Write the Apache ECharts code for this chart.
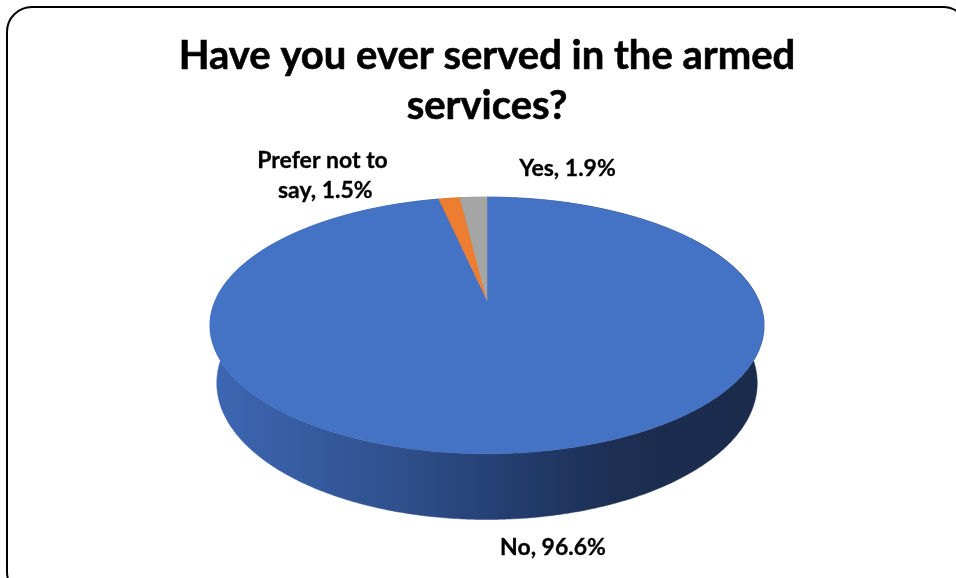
<!DOCTYPE html>
<html>
<head>
<meta charset="utf-8">
<script src="https://cdn.jsdelivr.net/npm/echarts@6/dist/echarts.min.js"></script>
<style>
  html, body { margin: 0; padding: 0; background: #ffffff; }
  #chart { width: 956px; height: 578px; }
</style>
</head>
<body>
<div id="chart"></div>
<script>
// Survey answers, in slice order (clockwise from 12 o'clock)
const categories = ['No', 'Prefer not to say', 'Yes'];
const shares = [96.6, 1.5, 1.9];

const titleText = 'Have you ever served in the armed\nservices?';

// Face colours per slice
const topColors = ['#4472C4', '#ED7D31', '#A5A5A5'];
const wallColors = ['#2F528F', '#AE5A21', '#7B7B7B'];

// Perspective camera for the tilted cylinder
const view = {
  cx: 487, cy: 300,      // screen position of the pie centre
  focal: 1222,           // focal length in px
  dist: 4.5,             // camera distance (in pie radii)
  tilt: 27 * Math.PI / 180,
  depth: 0.24            // cylinder height (in pie radii)
};

// Data label nudges relative to the rim anchor of each slice
const labelNudge = [[31, 29], [-124, -23], [94, -29]];
const labelFont = 'bold 23px Lato';

function project(x, y, z) {
  const s = Math.sin(view.tilt), c = Math.cos(view.tilt);
  const d = view.dist - (y * s + z * c);
  const v = y * c - z * s;
  return [view.cx + view.focal * x / d, view.cy - view.focal * v / d];
}
// alpha: clockwise angle from the far point (12 o'clock)
function rim(alpha, y) {
  return project(Math.sin(alpha), y, -Math.cos(alpha));
}

const total = shares.reduce((a, b) => a + b, 0);
function sliceAngles(i) {
  let before = 0;
  for (let k = 0; k < i; k++) before += shares[k];
  const a0 = before / total * Math.PI * 2;
  const a1 = (before + shares[i]) / total * Math.PI * 2;
  return [a0, a1];
}
function arcPoints(a0, a1, y) {
  const n = Math.max(2, Math.ceil((a1 - a0) / (Math.PI / 360)));
  const pts = [];
  for (let j = 0; j <= n; j++) pts.push(rim(a0 + (a1 - a0) * j / n, y));
  return pts;
}

// Horizontal shading of the outer wall, spanning the pie width
const left = rim(-Math.PI / 2, 0)[0] - 6;
const right = rim(Math.PI / 2, 0)[0] + 6;
function wallFill(i) {
  if (i !== 0) return wallColors[i];
  return {
    type: 'linear', global: true,
    x: left, y: 0, x2: right, y2: 0,
    colorStops: [
      { offset: 0, color: '#3D67B4' },
      { offset: 0.34, color: '#2F508C' },
      { offset: 0.58, color: '#223A6A' },
      { offset: 0.74, color: '#1C2E51' },
      { offset: 1, color: '#1A2B4C' }
    ]
  };
}

const seriesData = categories.map((name, i) => ({ name, value: shares[i] }));

const chart = echarts.init(document.getElementById('chart'), null, { renderer: 'canvas' });

chart.setOption({
  backgroundColor: '#ffffff',
  animation: false,
  graphic: [
    {
      type: 'rect', z: 0,
      shape: { x: 7, y: 7, width: 961, height: 590, r: 25 },
      style: { fill: 'none', stroke: '#000000', lineWidth: 2 }
    },
    {
      type: 'text', z: 5,
      x: 487, y: 31,
      style: {
        text: titleText,
        font: 'bold 40px Lato',
        fill: '#000000',
        stroke: '#000000',
        lineWidth: 0.6,
        align: 'center',
        lineHeight: 50
      }
    }
  ],
  series: [
    {
      // outer walls of the cylinder
      type: 'custom',
      coordinateSystem: 'none',
      z: 1,
      silent: true,
      data: seriesData,
      renderItem: function (params) {
        const i = params.dataIndex;
        const [a0, a1] = sliceAngles(i);
        const topArc = arcPoints(a0, a1, 0);
        const bottomArc = arcPoints(a0, a1, -view.depth).reverse();
        return {
          type: 'polygon',
          shape: { points: topArc.concat(bottomArc) },
          style: { fill: wallFill(i), stroke: wallFill(i), lineWidth: 0.5 }
        };
      }
    },
    {
      // top faces and data labels
      type: 'custom',
      coordinateSystem: 'none',
      z: 2,
      silent: true,
      data: seriesData,
      renderItem: function (params, api) {
        const i = params.dataIndex;
        const [a0, a1] = sliceAngles(i);
        const centre = project(0, 0, 0);
        const face = [centre].concat(arcPoints(a0, a1, 0));
        const mid = (a0 + a1) / 2;
        const front = Math.cos(mid) < 0;
        const anchor = rim(mid, front ? -view.depth : 0);
        const value = api.value(0);
        return {
          type: 'group',
          children: [
            {
              type: 'polygon',
              shape: { points: face },
              style: { fill: topColors[i], stroke: topColors[i], lineWidth: 0.5 }
            },
            {
              type: 'text',
              x: anchor[0] + labelNudge[i][0],
              y: anchor[1] + labelNudge[i][1],
              style: {
                text: categories[i] + ', ' + value.toFixed(1) + '%',
                font: labelFont,
                fill: '#000000',
                stroke: '#000000',
                lineWidth: 0.3,
                align: 'center',
                verticalAlign: 'middle',
                width: 150,
                overflow: 'break',
                lineHeight: 30
              }
            }
          ]
        };
      }
    }
  ]
});
</script>
</body>
</html>
